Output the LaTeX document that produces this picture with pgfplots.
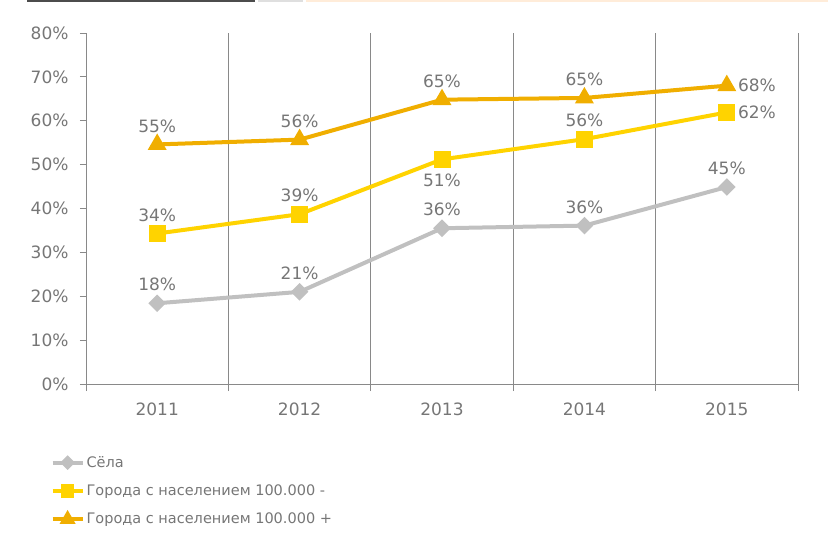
\documentclass[border=0pt]{standalone}
\usepackage{fontspec}
\setmainfont{DejaVu Sans}
\usepackage{pgfplots}
\usepackage{pgfplotstable}
\pgfplotsset{compat=1.18}

\definecolor{selocol}{HTML}{C0C0C0}
\definecolor{smallcol}{HTML}{FFD300}
\definecolor{bigcol}{HTML}{F0AE00}
\definecolor{txt}{HTML}{767676}
\definecolor{axl}{HTML}{898989}

\pgfplotstableread{
x y    lab
0 18.4 18
1 21.0 21
2 35.5 36
3 36.1 36
4 44.9 45
}\selotab
\pgfplotstableread{
x y    lab
0 34.3 34
1 38.7 39
2 51.2 51
3 55.8 56
4 61.9 62
}\smalltab
\pgfplotstableread{
x y    lab
0 54.6 55
1 55.7 56
2 64.8 65
3 65.2 65
4 68.0 68
}\bigtab

\pgfplotsset{
  lbl/.style={
    forget plot, draw=none, mark=none,
    point meta=explicit symbolic,
    nodes near coords={\pgfplotspointmeta\%},
    every node near coord/.append style={anchor=#1, inner sep=2bp,
      font=\fontsize{17bp}{20bp}\selectfont, text=txt},
  },
  up/.style={lbl=south, every node near coord/.append style={yshift=10bp}},
  down/.style={lbl=north, every node near coord/.append style={yshift=-12bp}},
  right/.style={lbl=west, every node near coord/.append style={xshift=9bp}},
}

\begin{document}
\begin{tikzpicture}
\useasboundingbox (0,0) rectangle (828bp,550bp);
\fill[gray!60!black] (27bp,548bp) rectangle (255bp,550bp);
\fill[gray!25] (258bp,548bp) rectangle (303bp,550bp);
\fill[orange!15] (306bp,548bp) rectangle (828bp,550bp);
\begin{axis}[
  at={(86bp,166bp)}, anchor=south west,
  scale only axis, width=712bp, height=351bp,
  xmin=-0.5, xmax=4.5, ymin=0, ymax=80,
  axis lines*=left,
  axis line style={axl, line width=0.8bp},
  xtick={0,1,2,3,4},
  xticklabels={2011,2012,2013,2014,2015},
  minor xtick={-0.5,0.5,1.5,2.5,3.5,4.5},
  xminorgrids,
  minor x grid style={axl, line width=0.8bp},
  major x tick style={draw=none},
  minor x tick style={axl, line width=0.8bp},
  major y tick style={axl, line width=0.8bp},
  ytick={0,10,...,80},
  yticklabel={\pgfmathprintnumber{\tick}\%},
  tick align=outside,
  major tick length=6bp,
  minor tick length=7bp,
  /pgf/number format/assume math mode=true,
  tick label style={font=\fontsize{17bp}{20bp}\selectfont, text=txt},
  xticklabel style={yshift=-9bp},
  yticklabel style={xshift=-8bp},
  clip=false,
  legend style={at={(axis description cs:-0.05,-0.2)}, anchor=north west,
    draw=none, fill=none, font=\fontsize{14.5bp}{17bp}\selectfont, text=txt,
    row sep=12bp, inner sep=0pt},
  legend cell align=left,
  legend image code/.code={\draw[mark repeat=2,mark phase=2,
      every mark/.append style={scale=0.75}]
    plot coordinates {(0bp,0bp) (15bp,0bp) (30bp,0bp)};},
]
\addplot[selocol, line width=4bp, mark=square*, mark size=4.2bp,
  mark options={rotate=45, solid}] table {\selotab};
\addlegendentry{Сёла}
\addplot[smallcol, line width=4bp, mark=square*, mark size=6.5bp,
  mark options={solid}] table {\smalltab};
\addlegendentry{Города с населением 100.000 -}
\addplot[bigcol, line width=4bp, mark=triangle*, mark size=7bp,
  mark options={solid}] table {\bigtab};
\addlegendentry{Города с населением 100.000 +}
% data labels
\addplot[up] table[meta=lab] {\selotab};
\addplot[up, skip coords between index={2}{3},
  skip coords between index={4}{5}] table[meta=lab] {\smalltab};
\addplot[down, skip coords between index={0}{2},
  skip coords between index={3}{5}] table[meta=lab] {\smalltab};
\addplot[right, skip coords between index={0}{4}] table[meta=lab] {\smalltab};
\addplot[up, skip coords between index={4}{5}] table[meta=lab] {\bigtab};
\addplot[right, skip coords between index={0}{4}] table[meta=lab] {\bigtab};
\end{axis}
\end{tikzpicture}
\end{document}
